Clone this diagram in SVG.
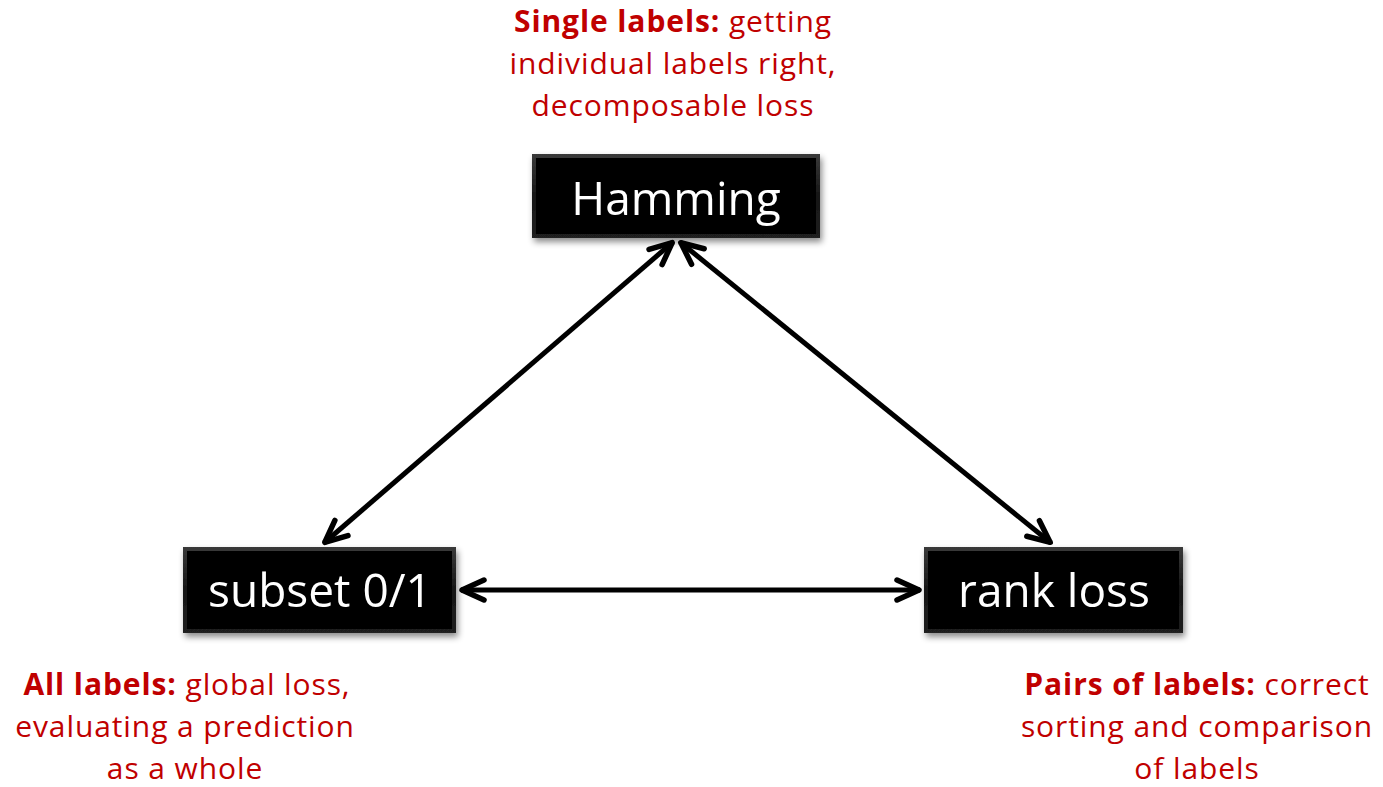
<svg xmlns="http://www.w3.org/2000/svg" width="1383" height="787" viewBox="0 0 1383 787">
<style>
.lbl{font-family:"Open Sans","Noto Sans",sans-serif;font-size:30px;letter-spacing:0.9px;fill:#C00000;text-anchor:middle}
.b{font-weight:bold}
.nt{font-family:"Open Sans","Noto Sans",sans-serif;font-size:46px;fill:#ffffff;text-anchor:middle}
.edge{fill:none;stroke:#000;stroke-width:5;marker-start:url(#ah);marker-end:url(#ah)}
.outer{fill:url(#bev)}
.inner{fill:#030303}
</style>
<defs>
<linearGradient id="bev" x1="0" y1="0" x2="0" y2="1">
<stop offset="0" stop-color="#3a3a3a"/>
<stop offset="0.5" stop-color="#161616"/>
<stop offset="1" stop-color="#202020"/>
</linearGradient>
<filter id="sh" x="-10%" y="-20%" width="125%" height="150%">
<feDropShadow dx="2" dy="4" stdDeviation="3" flood-color="#000" flood-opacity="0.45"/>
</filter>
<marker id="ah" viewBox="-30 -15 36 30" refX="1" refY="0" markerWidth="36" markerHeight="30" markerUnits="userSpaceOnUse" orient="auto-start-reverse">
<path d="M -22,-10 L 0,0 L -22,10" fill="none" stroke="#000" stroke-width="5.5" stroke-linecap="round" stroke-linejoin="round"/>
</marker>
</defs>
<g id="connectors">
<line class="edge" x1="673" y1="242" x2="324" y2="543"/>
<line class="edge" x1="680" y1="242" x2="1051" y2="543"/>
<line class="edge" x1="461" y1="590" x2="920" y2="590"/>
</g>
<g id="node-hamming" filter="url(#sh)">
<rect class="outer" x="532" y="154" width="288" height="84"/>
<rect class="inner" x="536" y="158" width="280" height="76"/>
<text class="nt" x="676" y="215">Hamming</text>
</g>
<g id="node-subset" filter="url(#sh)">
<rect class="outer" x="183" y="547" width="273" height="86"/>
<rect class="inner" x="187" y="551" width="265" height="78"/>
<text class="nt" x="320" y="607">subset 0/1</text>
</g>
<g id="node-rank" filter="url(#sh)">
<rect class="outer" x="924" y="547" width="259" height="86"/>
<rect class="inner" x="928" y="551" width="251" height="78"/>
<text class="nt" x="1054" y="607">rank loss</text>
</g>
<g id="label-single">
<text class="lbl" x="673" y="32"><tspan class="b">Single labels:</tspan> getting</text>
<text class="lbl" x="673" y="74">individual labels right,</text>
<text class="lbl" x="673" y="116">decomposable loss</text>
</g>
<g id="label-all">
<text class="lbl" x="187" y="695"><tspan class="b">All labels:</tspan> global loss,</text>
<text class="lbl" x="185" y="737">evaluating a prediction</text>
<text class="lbl" x="185" y="779">as a whole</text>
</g>
<g id="label-pairs">
<text class="lbl" x="1197" y="695"><tspan class="b">Pairs of labels:</tspan> correct</text>
<text class="lbl" x="1197" y="737">sorting and comparison</text>
<text class="lbl" x="1197" y="779">of labels</text>
</g>
</svg>
